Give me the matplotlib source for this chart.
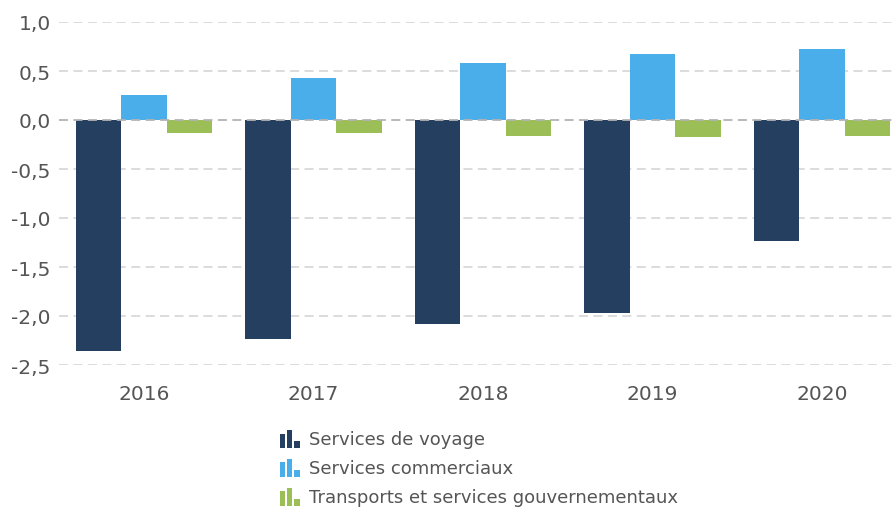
import matplotlib
matplotlib.use('Agg')
import matplotlib.pyplot as plt
import numpy as np
from matplotlib.legend_handler import HandlerBase
from matplotlib.patches import Rectangle, Patch
from matplotlib.ticker import FuncFormatter

plt.rcParams['font.family'] = ['DejaVu Sans']

# données
annees = ['2016', '2017', '2018', '2019', '2020']
voyage = [-2.36, -2.23, -2.08, -1.97, -1.23]
commerciaux = [0.26, 0.43, 0.58, 0.67, 0.72]
transports = [-0.13, -0.13, -0.16, -0.17, -0.16]
series = ['Services de voyage', 'Services commerciaux',
          'Transports et services gouvernementaux']
couleurs = ['#243f5f', '#4aaeea', '#9bbe56']


# petite icône de barres pour la légende
class HandlerBarIcon(HandlerBase):
    def create_artists(self, legend, orig_handle, xdescent, ydescent,
                       width, height, fontsize, trans):
        c = orig_handle.get_facecolor()
        hauteurs = [0.8, 1.0, 0.4]
        bw = width / 4.2
        artists = []
        for i, h in enumerate(hauteurs):
            r = Rectangle((-xdescent + i * bw * 1.4, -ydescent - height * 0.1),
                          bw, height * 1.1 * h, facecolor=c, edgecolor='none',
                          transform=trans)
            artists.append(r)
        return artists


fig = plt.figure(figsize=(8.95, 5.10), dpi=100)
ax = fig.add_axes([59 / 895, 1 - 366 / 510, 1 - 59 / 895, (366 - 23) / 510])

x = np.arange(len(annees))
w = 0.268
ax.bar(x - w, voyage, w, color=couleurs[0], zorder=3)
ax.bar(x, commerciaux, w, color=couleurs[1], zorder=3)
ax.bar(x + w, transports, w, color=couleurs[2], zorder=3)

ax.set_xlim(-0.5, 4.43)
ax.set_ylim(-2.5, 1.0)
ax.set_yticks(np.arange(-2.5, 1.01, 0.5))
ax.yaxis.set_major_formatter(FuncFormatter(lambda v, p: f'{v:.1f}'.replace('.', ',')))
ax.set_xticks(x)
ax.set_xticklabels(annees)

for v in np.arange(-2.5, 1.01, 0.5):
    if abs(v) < 1e-9:
        continue
    ax.axhline(v, color='#d9d9d9', lw=1.3, ls=(0, (5, 3)), zorder=1)
ax.axhline(0, color='#b3b3b3', lw=1.3, ls=(0, (5, 3)), zorder=4)

for s in ax.spines.values():
    s.set_visible(False)
ax.tick_params(axis='both', length=0, labelsize=14.5, colors='#555555')
ax.tick_params(axis='x', pad=14)
ax.tick_params(axis='y', pad=6)

handles = [Patch(facecolor=c) for c in couleurs]
leg = fig.legend(handles, series, loc='upper left',
                 bbox_to_anchor=(271 / 895, 1 - 422 / 510), frameon=False,
                 fontsize=13, labelcolor='#555555', handlelength=1.2,
                 handleheight=1.0, handletextpad=0.4, labelspacing=0.59,
                 borderpad=0, handler_map={Patch: HandlerBarIcon()})

fig.savefig('out.png', dpi=100)
